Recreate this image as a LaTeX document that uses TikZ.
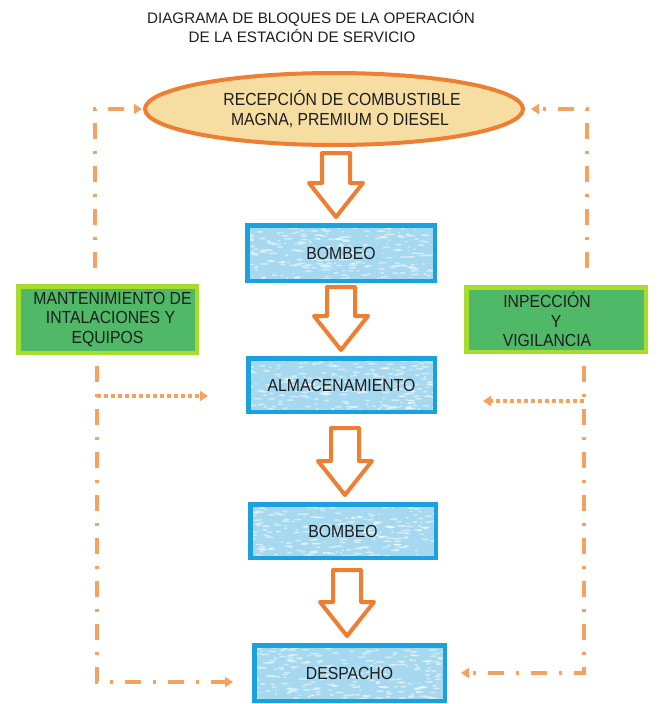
\documentclass[tikz,border=0pt]{standalone}
\usepackage{fontspec}
\setmainfont{Liberation Sans}
\newfontfamily\boxfont{Liberation Sans}[FakeStretch=0.9]
\usetikzlibrary{arrows.meta,shapes.geometric}
\definecolor{orng}{HTML}{EE7E32}
\definecolor{dorng}{HTML}{F3A262}
\definecolor{ellfill}{HTML}{F6DEA2}
\definecolor{bluestroke}{HTML}{1BA1DE}
\definecolor{bluefill}{HTML}{A6D9EF}
\definecolor{grnfill}{HTML}{50B968}
\definecolor{limestroke}{HTML}{A8DC2C}
\definecolor{txt}{HTML}{1E1E1E}
\begin{document}
\begin{tikzpicture}[x=1pt,y=-1pt,
  txtfont/.style={font=\boxfont\fontsize{17.5}{19.5}\selectfont, text=txt},
  titlefont/.style={font=\fontsize{15.2}{18}\selectfont, text=txt, inner sep=0pt},
  speckle/.style={path picture={
    \foreach \i in {1,...,320}{
      \fill[white, opacity=0.5] ([xshift={(rnd-0.5)*200pt}, yshift={(rnd-0.5)*64pt}]path picture bounding box.center)
        ellipse [x radius={1pt+rnd*4pt}, y radius=0.9pt];
    }}},
  procbox/.style={txtfont, draw=bluestroke, line width=4.5pt, fill=bluefill, inner sep=0pt, speckle},
  sidebox/.style={txtfont, draw=limestroke, line width=4.5pt, fill=grnfill, inner sep=0pt, align=center},
  startell/.style={txtfont, ellipse, draw=orng, line width=4pt, fill=ellfill, inner sep=0pt, align=center},
  loopline/.style={draw=dorng, line width=3.5pt, dash pattern=on 16pt off 12pt on 3pt off 12pt, -{Triangle[length=8pt,width=10pt]}},
  dotline/.style={draw=dorng, line width=4pt, dash pattern=on 4pt off 3pt, -{Triangle[length=8pt,width=10pt]}},
  pics/harrow/.style={code={
    \draw[orng, line width=4pt, line join=round, fill=white]
      (-14,0) -- (-14,#1-34) -- (-27,#1-34) -- (0,#1) -- (27,#1-34) -- (14,#1-34) -- (14,0) -- cycle;
  }}
]
\pgfmathsetseed{4271}
\useasboundingbox[fill=white] (0,0) rectangle (657,704);

% title
\node[titlefont] (t1) at (311,18) {DIAGRAMA DE BLOQUES DE LA OPERACIÓN};
\node[titlefont] (t2) at (302,36) {DE LA ESTACIÓN DE SERVICIO};

% main chain
\node[startell, minimum width=378, minimum height=72] (ell) at (334,109)
  {\hspace*{16pt}RECEPCIÓN DE COMBUSTIBLE\\\hspace*{12pt}MAGNA, PREMIUM O DIESEL};
\node[procbox, minimum width=187.5, minimum height=55.5] (b1) at (341,253) {BOMBEO};
\node[procbox, minimum width=186.5, minimum height=53.5] (alm) at (341.5,385) {ALMACENAMIENTO};
\node[procbox, minimum width=185.5, minimum height=53.5] (b2) at (343,531) {BOMBEO};
\node[procbox, minimum width=190.5, minimum height=55.5] (desp) at (349.5,673) {DESPACHO};

% side boxes
\node[sidebox, minimum width=178.5, minimum height=66.5] (mant) at (107.5,319.5)
  {\hspace*{10pt}MANTENIMIENTO DE\\\hspace*{6pt}INTALACIONES Y\\EQUIPOS};
\node[sidebox, minimum width=179.5, minimum height=64.5] (insp) at (556,319.5)
  {INPECCIÓN\hspace*{18pt}\\Y\hspace*{58pt}\\VIGILANCIA\hspace*{18pt}};

% hollow block arrows
\pic at (336,153) {harrow=64};
\pic at (341,287) {harrow=63};
\pic at (345,428) {harrow=67};
\pic at (347,570) {harrow=66};

% feedback connectors
\coordinate (lt) at (95,268);
\coordinate (rt) at (587,268);
\draw[loopline, shorten >=1pt] (lt) |- (ell.west);
\draw[loopline, shorten >=6pt] (rt) |- (ell.east);

\coordinate (lb) at (97,366);
\coordinate (lbe) at (233,682);
\draw[loopline] (lb) |- (lbe);
\coordinate (lbr) at (97,396);
\coordinate (lbre) at (208,396);
\draw[dotline] (lbr) -- (lbre);

\coordinate (rb) at (584,366);
\coordinate (rbe) at (461,673);
\draw[loopline] (rb) |- (rbe);
\coordinate (rbr) at (584,401);
\coordinate (rbre) at (483,401);
\draw[dotline] (rbr) -- (rbre);
\end{tikzpicture}
\end{document}
